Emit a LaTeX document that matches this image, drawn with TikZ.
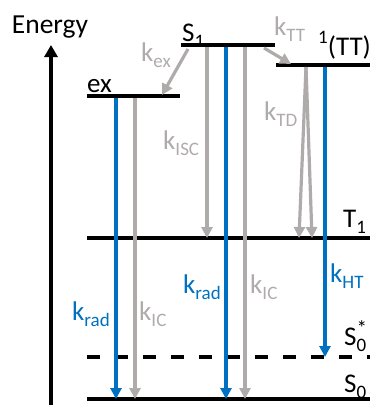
\documentclass[tikz,border=0pt]{standalone}
\usepackage{fontspec}
\setmainfont{Carlito}
\usetikzlibrary{arrows.meta}
\definecolor{kblue}{HTML}{0070C0}
\definecolor{kgray}{HTML}{AFABAB}
\newcommand{\subsz}[1]{\raisebox{-0.24em}{\fontsize{19}{19}\selectfont #1}}
\newcommand{\ksub}[1]{k\subsz{#1}}
\begin{document}
\begin{tikzpicture}[x=1pt,y=-1pt,
  level/.style={line width=3.8pt},
  lbl/.style={font=\fontsize{27}{28}\selectfont, inner sep=0pt, anchor=base west},
  bluearr/.style={kblue, line width=3.2pt, -{Triangle[width=11pt,length=11pt]}},
  grayarr/.style={kgray, line width=3.2pt, -{Triangle[width=11pt,length=11pt]}}]
\useasboundingbox (0,0) rectangle (374,405);
% axis
\node[lbl, font=\fontsize{27.5}{28}\selectfont, anchor=base] (energy) at (50,33) {Energy};
\coordinate (axb) at (51,405);
\coordinate (axt) at (51,45);
\draw[line width=3.2pt, -{Triangle[width=13pt,length=12pt]}] (axb) -- (axt);
% levels
\draw[level] (181,45) coordinate (S1L) -- (275,45) coordinate (S1R);
\draw[level] (276,65) coordinate (TTL) -- (370,65) coordinate (TTR);
\draw[level] (87,96) coordinate (exL) -- (180,96) coordinate (exR);
\draw[level] (87,238) coordinate (T1L) -- (370,238) coordinate (T1R);
\draw[level, dash pattern=on 13pt off 15pt] (87,357) coordinate (S0sL) -- (370,357) coordinate (S0sR);
\draw[level] (87,399) coordinate (S0L) -- (370,399) coordinate (S0R);
% level labels
\node[lbl] (lS1) at (182,41) {S\subsz{1}};
\node[lbl] (lTT) at (318,55) {\raisebox{0.42em}{\fontsize{19}{19}\selectfont 1}(TT)};
\node[lbl] (lex) at (87,92) {ex};
\node[lbl] (lT1) at (343,227) {T\subsz{1}};
\node[lbl] (lS0s) at (344,345) {S\rlap{\raisebox{0.36em}{\fontsize{21}{21}\selectfont *}}\subsz{0}};
\node[lbl] (lS0) at (344,392) {S\subsz{0}};
% transfer arrows
\coordinate (exa) at (188,49); \coordinate (exb) at (162,95);
\draw[grayarr] (exa) -- (exb);
\coordinate (tta) at (264,48); \coordinate (ttb) at (291,64);
\draw[grayarr] (tta) -- (ttb);
\node[lbl, kgray] (kex) at (141,61) {\ksub{ex}};
\node[lbl, kgray] (ktt) at (274,35) {\ksub{TT}};
% ex decays
\coordinate (e1a) at (116,98); \coordinate (e1b) at (116,399);
\draw[bluearr] (e1a) -- (e1b);
\coordinate (e2a) at (135,98); \coordinate (e2b) at (135,399);
\draw[grayarr] (e2a) -- (e2b);
\node[lbl, kblue] (krad1) at (72,320) {\ksub{rad}};
\node[lbl, kgray] (kic1) at (139,320) {\ksub{IC}};
% S1 decays
\coordinate (s1a) at (207,47); \coordinate (s1b) at (207,238);
\draw[grayarr] (s1a) -- (s1b);
\coordinate (s2a) at (226,47); \coordinate (s2b) at (226,399);
\draw[bluearr] (s2a) -- (s2b);
\coordinate (s3a) at (245,47); \coordinate (s3b) at (245,399);
\draw[grayarr] (s3a) -- (s3b);
\node[lbl, kgray] (kisc) at (163,149) {\ksub{ISC}};
\node[lbl, kblue] (krad2) at (183,293) {\ksub{rad}};
\node[lbl, kgray] (kic2) at (250,293) {\ksub{IC}};
% TT decays
\coordinate (tda) at (306,67);
\coordinate (tdb) at (299,238); \coordinate (tdc) at (312,238);
\draw[grayarr] (tda) -- (tdb);
\draw[grayarr] (tda) -- (tdc);
\coordinate (hta) at (325,67); \coordinate (htb) at (325,357);
\draw[bluearr] (hta) -- (htb);
\node[lbl, kgray] (ktd) at (264,120) {\ksub{TD}};
\node[lbl, kblue] (kht) at (330,282) {\ksub{HT}};
\end{tikzpicture}
\end{document}
